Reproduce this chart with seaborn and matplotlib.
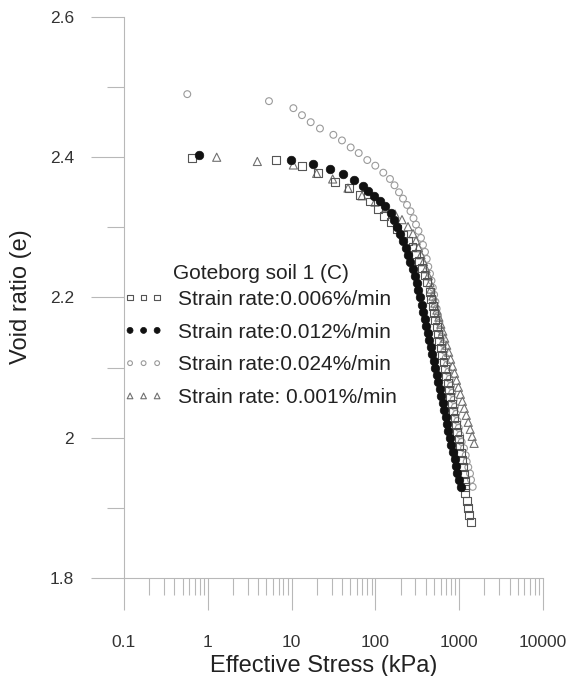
import numpy as np
import pandas as pd
import matplotlib
matplotlib.use("Agg")
import matplotlib.pyplot as plt
import seaborn as sns
from matplotlib.ticker import LogLocator, NullFormatter, FixedLocator

# ---------------- data ----------------
legend_title = "Goteborg soil 1 (C)"
series_labels = ["Strain rate:0.006%/min", "Strain rate:0.012%/min",
                 "Strain rate:0.024%/min", "Strain rate: 0.001%/min"]

# 0.006 %/min (open squares)
sq_stress = [0.643, 6.52, 13.2, 20.8, 33.0, 48.8, 65.5, 86.2, 108.3, 126.6, 151.4, 181.1,
             213.5, 245, 277.2, 305.2, 331.3, 359.7, 385.4, 412.9,
             446.9, 463.5, 481.6, 500.4, 518.6, 539, 560, 580.6, 603, 626.7,
             649.5, 675, 701.6, 727.3, 755.6, 785.3, 813.8, 845.9, 879, 910.9,
             946.5, 984, 1008, 1045, 1080, 1110, 1141, 1163,
             1172, 1183, 1229, 1284, 1309, 1371]
sq_e = [2.399, 2.396, 2.387, 2.377, 2.365, 2.356, 2.346, 2.337, 2.326, 2.316, 2.308, 2.298,
        2.289, 2.281, 2.272, 2.262, 2.252, 2.242, 2.232, 2.222,
        2.208, 2.198, 2.188, 2.178, 2.168, 2.158, 2.148, 2.138, 2.128, 2.118,
        2.108, 2.098, 2.088, 2.078, 2.068, 2.058, 2.048, 2.038, 2.028, 2.018,
        2.008, 1.998, 1.988, 1.978, 1.968, 1.958, 1.948, 1.938,
        1.930, 1.921, 1.910, 1.900, 1.890, 1.880]

# 0.012 %/min (filled circles)
fc_stress = [0.79, 9.76, 18.2, 28.7, 40.7, 56.0, 70.2, 81.6, 96.2, 112, 128.5,
             153.5, 169, 183.5, 199.3, 213.5, 228.7, 245, 262.3, 277.3, 293,
             309.4, 325, 340.6, 357, 373, 389.8, 406, 423.5, 440.8, 459.5,
             478.6, 498.8, 518.6, 538.5, 559.8, 582, 606.6, 632, 659, 687,
             715, 745, 776.6, 809, 843, 879, 916, 954, 995, 1037]
fc_e = [2.403, 2.396, 2.390, 2.383, 2.376, 2.367, 2.359, 2.352, 2.345, 2.338, 2.330,
        2.320, 2.310, 2.300, 2.290, 2.280, 2.270, 2.260, 2.250, 2.240, 2.230,
        2.220, 2.210, 2.200, 2.190, 2.180, 2.170, 2.160, 2.150, 2.140, 2.130,
        2.120, 2.110, 2.100, 2.090, 2.080, 2.070, 2.060, 2.050, 2.040, 2.030,
        2.020, 2.010, 2.000, 1.990, 1.980, 1.970, 1.960, 1.950, 1.940, 1.930]

# 0.024 %/min (open circles)
oc_stress = [0.569, 5.37, 10.5, 13.3, 16.9, 21.8, 31.5, 39.9, 50.7, 63.2, 80.0, 99.7,
             124.2, 149.3, 169, 191.2, 213.5, 238.3, 262.3, 285, 305.2, 326.8, 350,
             369.8, 390.8, 409.5, 427.7, 448.4, 467.2,
             484, 501.8, 520, 539, 558.5, 578.8, 600, 621.7, 644.4, 667.8,
             692, 717.3, 743.3, 770.3, 798, 827.5, 857.6, 888.6, 920.7, 954,
             988.6, 1025, 1071, 1141, 1196, 1229, 1284, 1346, 1384, 1449]
oc_e = [2.490, 2.480, 2.470, 2.460, 2.450, 2.441, 2.432, 2.424, 2.414, 2.406, 2.396, 2.388,
        2.378, 2.369, 2.360, 2.350, 2.341, 2.332, 2.323, 2.313, 2.304, 2.295, 2.285,
        2.275, 2.265, 2.255, 2.244, 2.234, 2.224,
        2.214, 2.204, 2.194, 2.184, 2.174, 2.164, 2.154, 2.144, 2.134, 2.124,
        2.114, 2.104, 2.094, 2.084, 2.074, 2.064, 2.054, 2.044, 2.034, 2.024,
        2.014, 2.004, 1.994, 1.985, 1.975, 1.966, 1.958, 1.949, 1.940, 1.930]

# 0.001 %/min (open triangles)
tr_stress = [1.277, 3.90, 10.5, 19.9, 30.9, 47.1, 69.2, 98.9, 133.8, 171.4, 207.7, 245,
             281, 305.2, 326.8, 350, 375, 401.7, 427.7, 448.4,
             460.9, 486.4, 513.3, 541.7, 571.5, 603.2, 636.5, 671.9, 708.9, 748.2,
             789.5, 833.3, 879.5, 927.9, 979.5, 1033, 1091, 1151, 1215, 1282,
             1353, 1428, 1507]
tr_e = [2.400, 2.394, 2.389, 2.377, 2.369, 2.356, 2.345, 2.336, 2.328, 2.319, 2.311, 2.301,
        2.291, 2.281, 2.271, 2.261, 2.251, 2.241, 2.231, 2.221,
        2.212, 2.202, 2.192, 2.182, 2.172, 2.162, 2.152, 2.142, 2.132, 2.122,
        2.112, 2.102, 2.092, 2.082, 2.072, 2.062, 2.052, 2.042, 2.032, 2.022,
        2.012, 2.002, 1.992]

x_ticks = [0.1, 1, 10, 100, 1000, 10000]
x_tick_labels = ["0.1", "1", "10", "100", "1000", "10000"]
y_ticks = [1.8, 2.0, 2.2, 2.4, 2.6]
y_tick_labels = ["1.8", "2", "2.2", "2.4", "2.6"]
y_minor_ticks = [1.9, 2.1, 2.3, 2.5]

# ---------------- figure ----------------
sns.set_theme(style="white")
plt.rcParams['font.family'] = ['Liberation Sans', 'DejaVu Sans']

W, H = 571, 676
fig = plt.figure(figsize=(W / 100, H / 100), dpi=100)
ax = fig.add_axes([124 / W, 1 - 578 / H, (543 - 124) / W, (578 - 17) / H])

axis_gray = "#b8b8b8"

sns.scatterplot(x=sq_stress, y=sq_e, ax=ax, marker="s", s=32, color="none",
                edgecolor="#555555", linewidth=0.8, label=series_labels[0], zorder=3)
sns.scatterplot(x=fc_stress, y=fc_e, ax=ax, marker="o", s=38, color="#111111",
                edgecolor="#111111", linewidth=0.5, label=series_labels[1], zorder=4)
sns.scatterplot(x=oc_stress, y=oc_e, ax=ax, marker="o", s=24, color="none",
                edgecolor="#9a9a9a", linewidth=0.8, label=series_labels[2], zorder=2)
sns.scatterplot(x=tr_stress, y=tr_e, ax=ax, marker="^", s=34, color="none",
                edgecolor="#707070", linewidth=0.8, label=series_labels[3], zorder=2)

ax.set_xscale("log")
ax.set_xlim(0.1, 10000)
ax.set_ylim(1.8, 2.6)

ax.set_xticks(x_ticks, labels=x_tick_labels)
ax.xaxis.set_minor_locator(LogLocator(base=10, subs=np.arange(2, 10)))
ax.xaxis.set_minor_formatter(NullFormatter())
ax.set_yticks(y_ticks, labels=y_tick_labels)
ax.yaxis.set_minor_locator(FixedLocator(y_minor_ticks))

for side in ["top", "right"]:
    ax.spines[side].set_visible(False)
for side in ["left", "bottom"]:
    ax.spines[side].set_color(axis_gray)
    ax.spines[side].set_linewidth(0.8)

ax.tick_params(axis="both", which="both", direction="out", color=axis_gray, width=0.8,
               bottom=True, left=True)
ax.tick_params(axis="x", which="major", length=23, pad=18, labelsize=12.5, labelcolor="#333333")
ax.tick_params(axis="x", which="minor", length=12)
ax.tick_params(axis="y", which="major", length=24, pad=12, labelsize=12.5, labelcolor="#333333")
ax.tick_params(axis="y", which="minor", length=12)

ax.set_xlabel("Effective Stress (kPa)", fontsize=17, color="#222222")
ax.set_ylabel("Void ratio (e)", fontsize=17, color="#222222")
ax.xaxis.set_label_coords((324 - 124) / 419, (578 - 655) / 561)
ax.yaxis.set_label_coords((32 - 124) / 419, (578 - 297) / 561)

leg = ax.legend(title=legend_title, loc="upper left",
                bbox_to_anchor=(123.8 / W, 1 - 264 / H), bbox_transform=fig.transFigure,
                frameon=False, fontsize=15, title_fontsize=15, scatterpoints=3,
                scatteryoffsets=[0.5],
                handlelength=1.9, handletextpad=0.72, labelspacing=0.66,
                borderpad=0, borderaxespad=0, markerscale=0.7)
leg._legend_box.sep = 5.0
for t in leg.get_texts():
    t.set_color("#222222")
leg.get_title().set_color("#222222")

fig.savefig("out.png", dpi=100, facecolor="white")
